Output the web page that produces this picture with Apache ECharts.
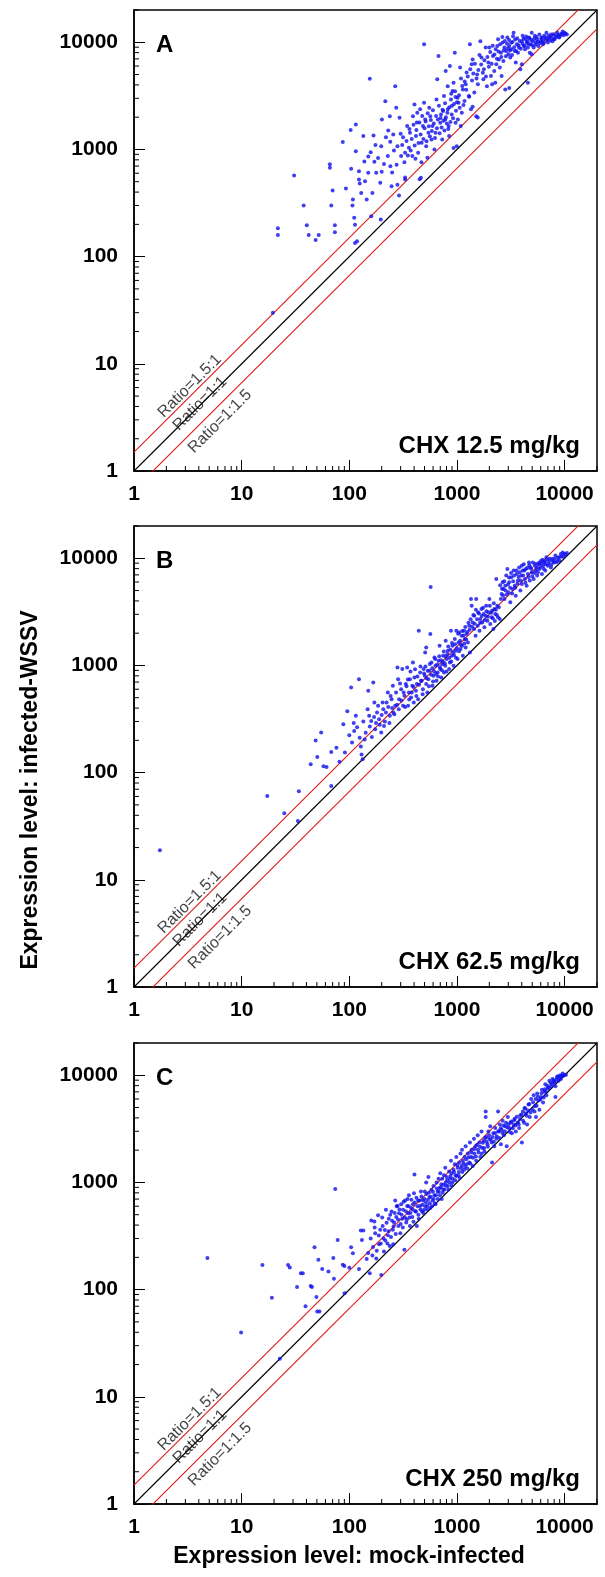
<!DOCTYPE html>
<html><head><meta charset="utf-8">
<script src="https://cdn.jsdelivr.net/npm/echarts@6/dist/echarts.min.js"></script>
<style>html,body{margin:0;padding:0;background:#fff}#c{width:605px;height:1577px}</style>
</head><body><div id="c"></div>
<script>
// ---- data ----
const panelNames = ['A', 'B', 'C'];
const doseLabels = ['CHX 12.5 mg/kg', 'CHX 62.5 mg/kg', 'CHX 250 mg/kg'];
const tickLabels = [1, 10, 100, 1000, 10000];
const minorTicks = [2,3,4,5,6,7,8,9,20,30,40,50,60,70,80,90,200,300,400,500,600,700,800,900,2000,3000,4000,5000,6000,7000,8000,9000,20000];
const ratios = [1.5, 1, 1/1.5];
const ratioNames = ['Ratio=1.5:1', 'Ratio=1:1', 'Ratio=1:1.5'];
const ratioLabelAnchors = [[3.3, 6.2], [4.1, 4.25], [6.3, 2.9]];

const pointsA = [
[21.7,184],[21.7,159],[30.7,571],[37.7,300],[40.3,196],[42,159],[48.7,143],[52,159],[19.5,30],
[66,729],[66,676],[70,414],[68,300],[73.5,196],[73.5,169],[87,1175],[93,432],[103,1518],[104,660],
[107,300],[108,341],[111,231],[113,198],[113,134],[118,139],[115,1713],[115,964],[123,627],[123,525],
[129,393],[135,1333],[138,772],[140,506],[145,341],[150,605],[155,4570],[158,944],[160,238],[164,393],
[168,1352],[171,767],[178,605],[194,488],[196,222],[198,1072],[201,1905],[216,2810],[219,1300],[228,867],
[238,2040],[241,698],[247,454],[256,1380],[267,3890],[273,2450],[280,1072],[280,468],[290,372],[293,1977],
[303,867],[316,1300],[330,525],[330,931],[345,1652],[358,1038],[366,1432],[385,867],[390,2040],[403,2630],
[416,1333],[424,1780],[436,931],[455,2366],[463,544],[470,1153],[483,1652],[495,2730],[495,9560],[507,1905],
[518,1072],[531,836],[543,1432],[553,2450],[566,2040],[580,1240],[593,1652],[618,1000],[632,1432],[646,2930],
[656,4510],[674,7450],[700,1775],[711,2120],[730,1240],[744,2280],[758,3150],[779,1905],[786,5400],[822,2366],
[838,1652],[846,1333],[860,6020],[880,2930],[894,2120],[909,3510],[930,4200],[955,8000],[971,1775],[996,1072],
[1015,3040],[1035,2730],[1070,5800],[1085,1652],[1110,2200],[1135,3630],[1175,2830],[1205,4050],[1230,5210],
[1290,3150],[1320,9560],[1350,2366],[1370,6220],[1400,6920],[1450,3390],[1510,2040],[1540,5010],[1565,4050],
[1650,10230],[1690,7190],[1760,4510],[1780,5600],[1850,8920],[1900,3890],[1960,6460],[2000,8920],[2070,4840],
[2120,4050],[2160,7450],[2220,5400],[2270,4200],[2320,6220],[2370,9240],[2410,10680],[2450,6920],[2500,5800],
[2560,8000],[2600,4840],[2660,9930],[2700,6690],[2760,8920],[2810,3630],[2870,8280],[2940,11060],[3010,7710],
[3060,9240],[3130,7190],[3200,8600],[3280,10070],[3360,12300],[3440,8280],[3520,6460],[3600,9560],[3690,8000],
[3780,8920],[3880,5600],[4010,10230],[4080,11500],[4180,9240],[4290,8600],[4360,10680],[4440,9930],[4560,8920],
[4670,11060],[4750,8000],[4830,9560],[4950,12300],[5070,10230],[5160,8920],[5290,11500],[5420,9930],[5560,10680],
[5700,9240],[5830,11800],[6020,10230],[6160,11060],[6310,9560],[6460,11500],[6620,10680],[6780,12300],[6990,9930],
[7220,11060],[7460,11800],[7710,10230],[7960,10680],[8220,11500],[8560,12300],[8890,11060],[9230,11800],[9600,12600],
[9930,12300],[1400,2500],[970,3090],[820,3890],[330,547],[450,526],[930,1030],[1560,1990],[3060,3740],[4010,6220],
[4950,7710],[4560,4200],
[310,1100],[325,760],[340,1200],[350,880],[362,1550],[372,980],[380,1250],[395,1700],[405,1090],[412,820],[420,1520],
[428,2200],[440,1150],[448,1780],[460,1380],[468,760],[476,2050],[488,1250],[500,1580],[512,1820],[522,1190],[535,2180],
[548,1650],[560,1330],[572,1880],[585,1490],[598,2320],[610,1750],[625,1280],[640,2050],[652,1580],[665,1900],[680,2550],
[690,1420],[705,1960],[720,1600],[735,2350],[750,1850],[765,1500],[775,2700],[790,2000],[805,1750],[815,2200],[830,1550],
[850,2480],[870,1800],[885,3300],[900,2550],[920,1950],[940,2650],[960,3500],[980,2300],[1000,2750],[1020,1900],[1045,3200],
[1060,2450],[1090,4600],[1120,3900],[1150,2600],[1180,4300],[1220,3600],[1260,4800],[1300,3100],[1330,5600],[1380,4400],
[1420,5100],[1470,6300],[1520,4600],[1580,5500],[1620,7600],[1680,6200],[1740,5200],[1800,6800],[1860,4800],[1920,7300],
[1980,5900],[2040,8100],[2100,6300],[2150,9300],[2230,7700],[2290,8600],[2350,7000],[2430,8200],[2520,9600],[2580,7300],
[2640,11200],[2720,8400],[2790,10300],[2850,7400],[2920,9700],[2980,8800],[3050,10500],[3110,8400],[3180,9900],[3250,7600],
[3320,11400],[3400,9000],[3470,10600],[3550,8300],[3630,10900],[3720,9400],[3820,10300],[3920,8700],[4050,9700],[4150,10800],
[4250,9300],[4400,11300],[4520,10100],[4620,9600],[4720,10900],[4880,10500],[5000,9400],[5220,10800],[5360,9500],[5500,11200],
[5650,10100],[5900,9800],[6080,10900],[6250,10300],[6400,9900],[6700,11000],[6900,10600],[7100,11500],[7350,10400],[7600,11000],
[7850,11900],[8100,10700],[8400,11200],[8700,11700],[9000,11300],[9400,12000],[9800,11600],[10200,12100],[10500,11800],
[200,620],[185,830],[230,1500],[250,610],[260,980],[275,720],[300,1400],[150,860],[125,480],[175,1100],[210,730],[240,1180]
];

const pointsB = [
[1.74,18.9],[17.3,60.5],[24.9,41.7],[33.3,35.3],[34,67],[43.8,120],[48.7,199],[50.4,140],[54.8,237],[57.6,115],
[61.5,113],[68,75],[68,156],[76,171],[81,126],[88,283],[91,154],[95.8,374],[100,223],[104,622],[106,191],[111,245],
[115,339],[123,745],[125,212],[130,148],[133,133],[139,204],[150,580],[153,339],[160,304],[167,692],[171,451],
[174,254],[181,363],[189,315],[198,237],[204,451],[210,273],[219,363],[228,560],[238,339],[247,484],[254,645],
[256,363],[267,420],[280,955],[284,745],[290,484],[303,601],[311,925],[316,420],[325,521],[335,670],[345,955],
[352,420],[358,560],[366,745],[375,502],[385,645],[390,1066],[397,451],[403,773],[416,580],[424,670],[436,484],
[442,2110],[455,861],[463,719],[483,601],[490,925],[503,800],[507,1320],[518,1473],[518,670],[531,560],[543,745],
[556,891],[566,1963],[570,5400],[580,1066],[593,645],[606,800],[618,1188],[632,993],[646,719],[662,861],[674,1106],
[690,1528],[700,925],[716,773],[730,1028],[744,1230],[758,861],[779,993],[786,1700],[804,1147],[822,1370],[846,925],
[860,1066],[880,2110],[894,1230],[909,1528],[930,993],[955,1763],[971,1370],[987,2110],[1015,1147],[1035,1640],
[1050,2030],[1080,1422],[1105,1892],[1115,1528],[1135,1230],[1165,2110],[1180,1763],[1205,1473],[1230,1963],
[1265,1640],[1300,2350],[1320,1320],[1350,4170],[1370,3610],[1400,2520],[1440,2190],[1450,2910],[1490,1892],
[1510,4170],[1560,2350],[1570,3130],[1620,2110],[1650,2710],[1690,3360],[1720,2520],[1770,3020],[1800,2270],
[1850,2910],[1870,3610],[1920,2610],[1960,3130],[2000,4170],[2040,2430],[2100,2810],[2120,3240],[2180,2190],
[2220,3360],[2270,3020],[2320,6410],[2370,3610],[2410,2810],[2500,2710],[2560,4170],[2600,4640],[2660,5970],
[2700,5160],[2760,4170],[2810,5550],[2870,6890],[2940,7950],[3010,4810],[3060,5970],[3130,3880],[3200,6640],
[3280,5160],[3360,7670],[3440,5550],[3520,4480],[3600,7140],[3690,6190],[3780,8180],[3880,4990],[3950,6890],
[4010,5760],[4080,7670],[4180,8790],[4290,6410],[4360,7950],[4440,5550],[4560,7140],[4670,9120],[4750,6190],
[4830,8180],[4950,7400],[5070,9120],[5160,6410],[5290,8530],[5420,7670],[5560,6890],[5700,8790],[5830,7950],
[6020,9450],[6160,7140],[6310,8530],[6460,9120],[6620,7670],[6780,10200],[6990,8530],[7220,9450],[7460,8180],
[7710,9820],[7960,9120],[8220,10590],[8560,9450],[8890,10200],[9230,10960],[9600,11340],[9930,10960],
[110,290],[118,265],[128,175],[135,300],[142,235],[148,390],[155,270],[162,215],[170,330],[177,290],[185,420],[192,280],
[200,345],[207,390],[214,300],[222,450],[230,410],[236,290],[242,520],[250,400],[262,350],[272,560],[278,430],[288,390],
[296,680],[305,470],[320,560],[330,410],[340,640],[350,740],[360,480],[370,880],[380,560],[395,630],[408,920],[420,520],
[430,790],[445,660],[458,980],[470,720],[480,540],[495,840],[510,980],[522,760],[535,890],[550,640],[560,1030],[575,820],
[590,940],[600,710],[615,880],[628,1150],[640,830],[655,1020],[668,790],[685,1220],[695,960],[710,1120],[725,900],[740,1080],
[755,1350],[770,1050],[785,1220],[800,880],[815,1280],[830,1500],[850,1180],[870,1400],[885,1090],[900,1620],[920,1320],
[940,1250],[960,1580],[980,1180],[1000,1450],[1025,1980],[1045,1360],[1070,1700],[1090,1550],[1120,2100],[1150,1900],
[1170,1600],[1195,2280],[1220,1750],[1250,2050],[1280,2500],[1310,2150],[1340,2700],[1380,2300],[1420,2950],[1460,2450],
[1500,3300],[1540,2700],[1600,3050],[1640,2500],[1700,2900],[1750,3450],[1820,2650],[1880,3200],[1940,2850],[2020,3600],
[2080,3100],[2150,2750],[2200,3800],[2250,2600],[2300,3300],[2350,2950],[2450,3500],[2520,5600],[2620,5200],[2680,4500],
[2750,6100],[2830,5000],[2900,4600],[2980,5700],[3050,6600],[3120,5300],[3180,7300],[3250,4700],[3330,6100],[3400,6900],
[3480,5300],[3560,7700],[3650,5800],[3740,6700],[3820,7400],[3920,6200],[4000,8500],[4120,6900],[4230,7700],[4330,5900],
[4500,8100],[4620,6700],[4700,8600],[4900,8000],[5000,6800],[5230,7300],[5350,8900],[5500,8100],[5650,7400],[5780,9100],
[5950,8300],[6100,8900],[6240,9700],[6380,8000],[6550,9400],[6700,8800],[6880,9700],[7100,8900],[7300,9900],[7550,8700],
[7800,9400],[8050,9900],[8350,9200],[8650,10100],[8980,9500],[9350,10400],[9750,10300],[10200,10800],[10500,11200]
];

const pointsC = [
[4.81,197],[9.88,39.8],[15.6,170],[19.1,84],[22.6,22.7],[27,170],[28,161],[32.7,106],[35.5,142],[37,142],[39.2,70],
[43.8,108],[45,106],[47.5,249],[49.5,85.5],[50.4,62.6],[52.8,62.6],[51.6,190],[56,156],[64,148],[71,197],[72,126],
[74,869],[78,291],[90.5,92.5],[87,171],[90,166],[100,160],[104,249],[108,218],[123,156],[128,357],[135,357],[131,291],
[145,193],[155,142],[160,441],[171,432],[164,208],[174,335],[178,195],[185,495],[189,265],[194,362],[198,137],[204,392],
[210,227],[216,287],[219,557],[228,322],[233,458],[238,255],[247,536],[254,362],[256,265],[261,424],[267,677],[273,476],
[280,602],[286,392],[290,515],[298,335],[303,626],[311,458],[316,557],[325,236],[330,677],[338,424],[345,602],[352,515],
[358,761],[366,392],[375,579],[385,476],[390,626],[399,791],[403,1188],[416,536],[424,392],[436,677],[442,458],[455,602],
[463,822],[474,536],[483,677],[495,557],[503,822],[515,651],[518,1000],[531,602],[543,1124],[556,731],[566,579],[580,855],
[593,677],[606,925],[618,761],[632,626],[646,1000],[662,822],[674,1081],[690,889],[700,1216],[716,962],[730,1081],[744,855],
[758,1170],[779,1368],[786,1000],[804,1124],[822,925],[846,1265],[860,1081],[880,1597],[894,1216],[909,1000],[930,1315],
[955,1477],[971,1170],[987,1726],[1015,1368],[1035,1170],[1050,1535],[1080,1866],[1105,1422],[1115,2018],[1135,1597],
[1165,1315],[1180,1726],[1205,2182],[1230,1477],[1265,1866],[1300,1535],[1320,2360],[1350,1726],[1370,2018],[1400,1422],
[1440,2553],[1450,1866],[1490,2182],[1510,1597],[1560,2760],[1570,2018],[1620,2360],[1650,1726],[1690,2985],[1720,2100],
[1770,2454],[1800,1940],[1850,4580],[1850,4070],[1870,2654],[1920,2270],[1960,2985],[2000,2553],[2040,3350],[2100,2360],
[2120,1535],[2180,2870],[2220,2182],[2270,3220],[2320,2553],[2410,4580],[2450,2985],[2500,3480],[2560,2270],[2600,3100],
[2660,3770],[2730,2760],[2810,3350],[2900,2182],[2970,4070],[3060,3220],[3150,3630],[3240,2870],[3360,3480],[3440,3920],
[3520,2985],[3690,3630],[3780,3220],[3880,4240],[4010,2360],[4120,3770],[4240,4950],[4360,4410],[4480,3480],[4620,5350],
[4750,4070],[4890,6020],[5030,4770],[5160,6520],[5290,5150],[5420,4070],[5560,6770],[5700,5800],[5830,4770],[6020,6270],
[6160,7310],[6310,5580],[6460,7030],[6620,8230],[6780,6520],[6990,7600],[7220,8890],[7460,7910],[7710,9250],[7960,8550],
[8220,7910],[8500,9610],[8800,8890],[9100,10000],[9230,9250],[9600,10400],[9930,10000],[8220,6270],
[150,220],[158,300],[166,250],[172,380],[180,230],[188,320],[196,270],[202,470],[208,300],[214,360],[222,420],[226,270],
[232,350],[240,500],[244,310],[250,440],[258,390],[264,520],[270,330],[276,600],[284,450],[292,560],[300,410],[306,500],
[314,380],[320,660],[328,470],[335,540],[342,450],[348,700],[356,600],[362,470],[370,520],[378,690],[388,560],[395,430],
[405,650],[410,540],[420,720],[430,600],[438,500],[448,680],[458,560],[468,740],[478,620],[488,520],[498,700],[508,600],
[520,780],[528,560],[538,690],[550,800],[560,640],[572,730],[585,600],[598,820],[610,700],[622,640],[638,760],[650,880],
[665,700],[680,820],[695,760],[710,900],[722,700],[738,800],[750,950],[765,860],[790,930],[810,1050],[830,860],[850,1000],
[870,1150],[890,930],[915,1080],[940,1250],[965,1050],[990,1150],[1010,1450],[1040,1250],[1060,1100],[1090,1350],[1120,1250],
[1150,1500],[1190,1400],[1220,1650],[1250,1350],[1280,1720],[1330,1500],[1360,1900],[1410,1700],[1460,2050],[1500,1750],
[1540,2250],[1590,1900],[1640,2150],[1700,1850],[1740,2350],[1790,2100],[1830,2600],[1890,2400],[1940,2150],[1990,2750],
[2060,2500],[2140,2650],[2200,2400],[2260,2900],[2340,2700],[2420,3000],[2480,2600],[2550,3200],[2640,2900],[2700,3400],
[2780,3000],[2860,3600],[2940,3250],[3020,3500],[3100,2950],[3200,3700],[3300,3200],[3400,3800],[3500,3400],[3600,4100],
[3750,3500],[3850,3900],[3980,4300],[4100,4600],[4200,3600],[4320,4900],[4450,4200],[4580,4700],[4700,5400],[4820,4500],
[5100,5600],[5250,4600],[5380,6000],[5500,5200],[5650,6300],[5950,5900],[6100,6800],[6400,6200],[6550,7400],[6700,7100],
[6900,8000],[7150,7600],[7400,8500],[7650,8300],[7900,9000],[8100,8700],[8400,9200],[8650,9800],[8950,9400],[9300,9800],
[9700,9900],[10300,10100]
];
const panelPoints = [pointsA, pointsB, pointsC];

// ---- layout ----
const gridTops = [10, 526, 1043];
const GL = 134, GW = 463, GH = 461;
const AX_MIN = 1, AX_MAX = 20000;
const FONT = '"Liberation Sans", Arial, Helvetica, sans-serif';

const chart = echarts.init(document.getElementById('c'), null, {renderer: 'canvas'});

const grids = [], xAxes = [], yAxes = [], series = [], graphics = [];
gridTops.forEach((top, i) => {
  grids.push({left: GL, top: top, width: GW, height: GH, show: true, borderColor: '#000', borderWidth: 1.5, backgroundColor: 'transparent'});
  const axisCommon = {
    type: 'log', logBase: 10, min: AX_MIN, max: AX_MAX, gridIndex: i,
    axisLine: {show: true, onZero: false, lineStyle: {color: '#000', width: 1.5}},
    axisTick: {show: true, inside: true, length: 11, lineStyle: {color: '#000', width: 1}},
    splitLine: {show: false}, minorTick: {show: false}, minorSplitLine: {show: false},
    axisLabel: {
      color: '#000', fontFamily: FONT, fontWeight: 'bold', fontSize: 21, showMaxLabel: false,
      formatter: v => (tickLabels.indexOf(Math.round(v)) >= 0 ? String(Math.round(v)) : '')
    }
  };
  xAxes.push(Object.assign({}, axisCommon, {axisLabel: Object.assign({}, axisCommon.axisLabel, {margin: 13})}));
  yAxes.push(Object.assign({}, axisCommon, {axisLabel: Object.assign({}, axisCommon.axisLabel, {margin: 16})}));

  ratios.forEach((r) => {
    series.push({
      type: 'line', xAxisIndex: i, yAxisIndex: i, showSymbol: false, silent: true, clip: true,
      data: [[AX_MIN, AX_MIN * r], [AX_MAX, AX_MAX * r]],
      lineStyle: {color: r === 1 ? '#000' : '#e01a1a', width: 1.1}, z: 2
    });
  });
  series.push({
    type: 'scatter', xAxisIndex: i, yAxisIndex: i, symbolSize: 0, silent: true, z: 4,
    data: ratioLabelAnchors.map((p, k) => ({value: p, name: ratioNames[k]})),
    label: {show: true, position: 'inside', rotate: 45, formatter: p => p.name,
      color: '#111', fontFamily: FONT, fontSize: 16}
  });
  series.push({
    type: 'scatter', xAxisIndex: i, yAxisIndex: i, silent: true, z: 3,
    data: panelPoints[i], symbol: 'circle', symbolSize: 4,
    itemStyle: {color: '#1010ee'}
  });
  series.push({
    type: 'custom', xAxisIndex: i, yAxisIndex: i, silent: true, z: 5, clip: false,
    data: minorTicks.map(v => [v, AX_MIN]),
    renderItem: (params, api) => {
      const p = api.coord([api.value(0), api.value(1)]);
      return {type: 'line', shape: {x1: p[0], y1: p[1], x2: p[0], y2: p[1] - 5}, style: {stroke: '#000', lineWidth: 1}};
    }
  });
  series.push({
    type: 'custom', xAxisIndex: i, yAxisIndex: i, silent: true, z: 5, clip: false,
    data: minorTicks.map(v => [AX_MIN, v]),
    renderItem: (params, api) => {
      const p = api.coord([api.value(0), api.value(1)]);
      return {type: 'line', shape: {x1: p[0], y1: p[1], x2: p[0] + 5, y2: p[1]}, style: {stroke: '#000', lineWidth: 1}};
    }
  });

  graphics.push({type: 'text', left: 156, top: top + 23, silent: true,
    style: {text: panelNames[i], font: 'bold 24px ' + FONT, fill: '#000'}});
  graphics.push({type: 'text', right: 605 - 580, top: top + GH - 37, silent: true,
    style: {text: doseLabels[i], font: 'bold 24px ' + FONT, fill: '#000'}});
});

graphics.push({type: 'text', x: 31, y: 790, rotation: Math.PI / 2, silent: true,
  style: {text: 'Expression level: infected-WSSV', font: 'bold 23px ' + FONT, fill: '#000', align: 'center', verticalAlign: 'middle'}});
graphics.push({type: 'text', x: 349, y: 1557, silent: true,
  style: {text: 'Expression level: mock-infected', font: 'bold 23px ' + FONT, fill: '#000', align: 'center', verticalAlign: 'middle'}});

chart.setOption({
  animation: false,
  backgroundColor: '#fff',
  grid: grids, xAxis: xAxes, yAxis: yAxes, series: series, graphic: graphics
});
</script></body></html>
